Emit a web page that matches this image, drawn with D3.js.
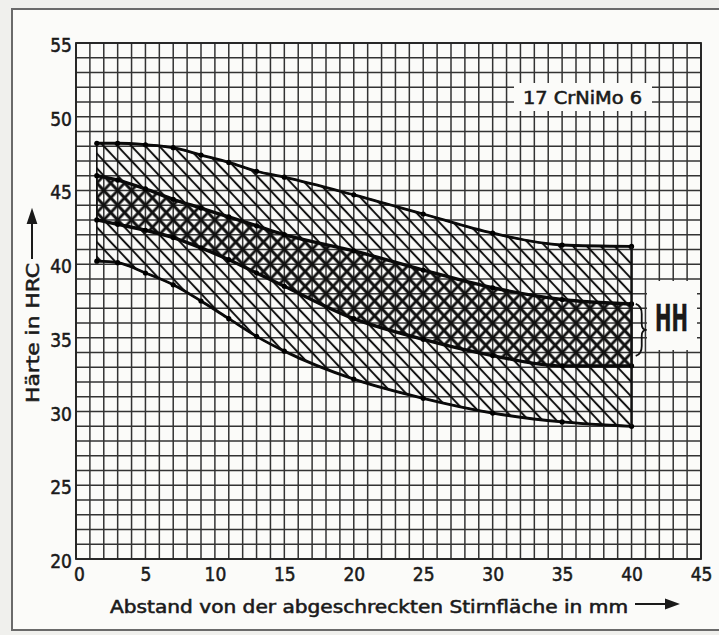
<!DOCTYPE html>
<meta charset="utf-8">
<html>
<head>
<script src="https://d3js.org/d3.v7.min.js"></script>
<style>
  body { margin: 0; background: #f0f0ed; }
  text { font-family: "DejaVu Sans Condensed", "DejaVu Sans", sans-serif; fill: #1a1a1a; stroke: #1a1a1a; stroke-width: 0.5px; }
</style>
</head>
<body>
<div id="jominy"></div>
<script>
// Stirnabstand (mm) der Messpunkte
var abstand = [1.5, 3, 5, 7, 9, 11, 13, 15, 20, 25, 30, 35, 40];
// Streuband 17 CrNiMo 6, Haerte in HRC
var hrcMax        = [48.2, 48.2, 48.1, 47.9, 47.4, 46.9, 46.3, 45.9, 44.7, 43.4, 42.1, 41.3, 41.2];
var hrcMitteOben  = [46.0, 45.7, 45.1, 44.4, 43.8, 43.2, 42.6, 42.0, 40.9, 39.6, 38.4, 37.6, 37.3];
var hrcMitteUnten = [43.0, 42.7, 42.3, 41.8, 41.1, 40.3, 39.4, 38.5, 36.3, 34.9, 33.8, 33.1, 33.1];
var hrcMin        = [40.2, 40.1, 39.4, 38.6, 37.5, 36.3, 35.1, 34.1, 32.2, 30.9, 29.9, 29.3, 29.0];

var xTicks = [0, 5, 10, 15, 20, 25, 30, 35, 40, 45];
var yTicks = [20, 25, 30, 35, 40, 45, 50, 55];

var werkstoff = "17 CrNiMo 6";
var xTitel = "Abstand von der abgeschreckten Stirnfläche in mm";
var yTitel = "Härte in HRC";

var width = 719, height = 635;
var x = d3.scaleLinear([0, 45], [76, 701]);
var y = d3.scaleLinear([20, 55], [559, 43]);

var rows = abstand.map((a, i) => ({
    a: a, max: hrcMax[i], mo: hrcMitteOben[i], mu: hrcMitteUnten[i], min: hrcMin[i]
}));

var svg = d3.select("#jominy").append("svg")
    .attr("width", width)
    .attr("height", height);

// Rahmen um die Abbildung
svg.append("rect")
    .attr("x", 12).attr("y", 9).attr("width", 720).attr("height", 621)
    .attr("fill", "#fbfbf9").attr("stroke", "#6a6a6a").attr("stroke-width", 2);

// Schraffuren, entlang der Rasterdiagonalen
var defs = svg.append("defs");
var cw = x(1) - x(0), ch = y(20) - y(21);
var ang = Math.atan2(ch, cw) * 180 / Math.PI;
var sp = cw * ch / Math.hypot(cw, ch);
function hatch(id, rot, sw) {
    var p = defs.append("pattern")
        .attr("id", id)
        .attr("patternUnits", "userSpaceOnUse")
        .attr("width", 40).attr("height", sp)
        .attr("patternTransform", `translate(${x(0)},${y(20)}) rotate(${rot})`);
    p.append("rect").attr("x", 0).attr("y", 0).attr("width", 40).attr("height", sw / 2).attr("fill", "#111");
    p.append("rect").attr("x", 0).attr("y", sp - sw / 2).attr("width", 40).attr("height", sw / 2).attr("fill", "#111");
}
hatch("schraffA", ang, 2.0);
hatch("schraffA2", ang, 2.8);
hatch("schraffB", -ang, 2.8);

// Millimeterraster
var grid = svg.append("g").attr("stroke", "#333").attr("stroke-width", 1.5);
grid.selectAll("line.v").data(d3.range(0, 46)).join("line")
    .attr("class", "v")
    .attr("x1", d => x(d)).attr("x2", d => x(d))
    .attr("y1", y(55)).attr("y2", y(20));
grid.selectAll("line.h").data(d3.range(20, 56)).join("line")
    .attr("class", "h")
    .attr("x1", x(0)).attr("x2", x(45))
    .attr("y1", d => y(d)).attr("y2", d => y(d));
svg.append("rect")
    .attr("x", x(0)).attr("y", y(55))
    .attr("width", x(45) - x(0)).attr("height", y(20) - y(55))
    .attr("fill", "none").attr("stroke", "#222").attr("stroke-width", 1.8);

// Streuband
var curve = d3.curveMonotoneX;
var bandAussen = d3.area().x(d => x(d.a)).y0(d => y(d.min)).y1(d => y(d.max)).curve(curve);
var bandInnen = d3.area().x(d => x(d.a)).y0(d => y(d.mu)).y1(d => y(d.mo)).curve(curve);

svg.append("path").datum(rows)
    .attr("d", bandAussen)
    .attr("fill", "url(#schraffA)")
    .attr("stroke", "#111").attr("stroke-width", 1.6);
svg.append("path").datum(rows)
    .attr("d", bandInnen)
    .attr("fill", "url(#schraffB)")
    .attr("stroke", "#111").attr("stroke-width", 1.6);
svg.append("path").datum(rows)
    .attr("d", bandInnen)
    .attr("fill", "url(#schraffA2)")
    .attr("stroke", "none");

var linien = ["max", "mo", "mu", "min"];
linien.forEach(k => {
    svg.append("path").datum(rows)
        .attr("d", d3.line().x(d => x(d.a)).y(d => y(d[k])).curve(curve))
        .attr("fill", "none")
        .attr("stroke", "#0a0a0a")
        .attr("stroke-width", k == "max" || k == "min" ? 2.8 : 3.4);
    svg.append("g").selectAll("circle").data(rows).join("circle")
        .attr("cx", d => x(d.a)).attr("cy", d => y(d[k]))
        .attr("r", 2.6).attr("fill", "#000");
});

// Abschluss bei 40 mm
var last = rows[rows.length - 1];
svg.append("line")
    .attr("x1", x(last.a)).attr("x2", x(last.a))
    .attr("y1", y(last.max)).attr("y2", y(last.min))
    .attr("stroke", "#111").attr("stroke-width", 2.2);

// Kennzeichnung HH
svg.append("rect")
    .attr("x", 647).attr("y", 281).attr("width", 50).attr("height", 69)
    .attr("fill", "#fbfbf9");
svg.append("path")
    .attr("d", `M${x(40.3)},${y(last.mo)} q6,2 6,10 v10 q0,6 5,6 q-5,0 -5,6 v10 q0,8 -6,10`)
    .attr("fill", "none").attr("stroke", "#111").attr("stroke-width", 1.8);
svg.append("text")
    .attr("x", 655).attr("y", 331)
    .attr("font-size", 38)
    .attr("font-weight", "bold")
    .attr("textLength", 33).attr("lengthAdjust", "spacingAndGlyphs")
    .text("HH");

// Werkstoffbezeichnung
svg.append("rect")
    .attr("x", 514).attr("y", 83).attr("width", 138).attr("height", 28)
    .attr("fill", "#fbfbf9");
svg.append("text")
    .attr("x", 523).attr("y", 104)
    .attr("font-size", 17)
    .attr("textLength", 119).attr("lengthAdjust", "spacingAndGlyphs")
    .text(werkstoff);

// Achsenbeschriftung
svg.append("g")
    .attr("transform", `translate(0,${y(20)})`)
    .call(d3.axisBottom(x).tickValues(xTicks).tickSize(0).tickPadding(9))
    .call(g => g.select(".domain").remove())
    .call(g => g.selectAll("text").attr("font-size", 19).attr("font-family", null).attr("dx", (d, i) => i == 0 ? 3 : 0));

svg.append("g")
    .attr("transform", `translate(${x(0)},0)`)
    .call(d3.axisLeft(y).tickValues(yTicks).tickSize(0).tickPadding(4))
    .call(g => g.select(".domain").remove())
    .call(g => g.selectAll("text").attr("font-size", 19).attr("font-family", null).attr("dy", "0.45em"));

svg.append("text")
    .attr("x", 110).attr("y", 613)
    .attr("font-size", 17)
    .attr("textLength", 518).attr("lengthAdjust", "spacingAndGlyphs")
    .text(xTitel);
svg.append("path")
    .attr("d", "M635,604 H668 M677,604 L666,600 L666,608 Z")
    .attr("stroke", "#1a1a1a").attr("stroke-width", 2).attr("fill", "#1a1a1a");

svg.append("text")
    .attr("transform", "translate(39,403) rotate(-90)")
    .attr("font-size", 17)
    .attr("textLength", 140).attr("lengthAdjust", "spacingAndGlyphs")
    .text(yTitel);
svg.append("path")
    .attr("d", "M32,259 V222 M32,211 L28,223 L36,223 Z")
    .attr("stroke", "#1a1a1a").attr("stroke-width", 2).attr("fill", "#1a1a1a");
</script>
</body>
</html>
